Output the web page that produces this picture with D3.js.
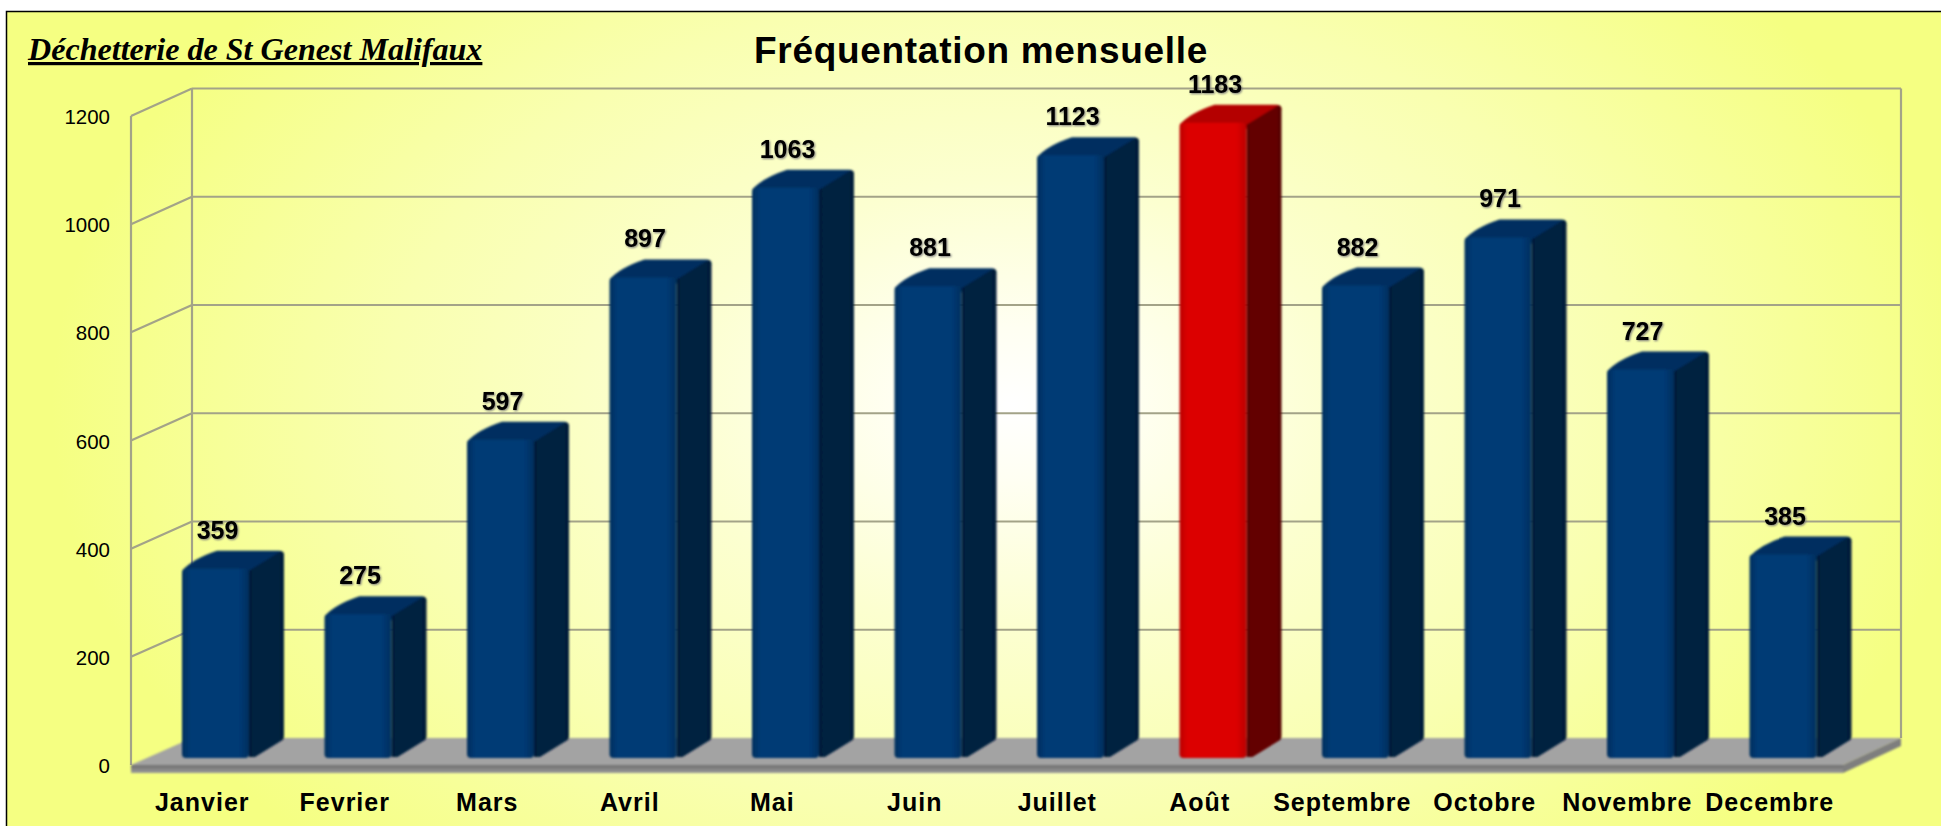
<!DOCTYPE html>
<meta charset="utf-8">
<script src="https://d3js.org/d3.v7.min.js"></script>
<style>
html, body { margin: 0; padding: 0; background: white; overflow: hidden; }
text { font-family: "Liberation Sans", Arial, sans-serif; fill: black; }
.domain { display: none; }
.tick line { display: none; }
.ytick text { font-size: 20.5px; }
.xtick text { font-size: 25px; font-weight: bold; letter-spacing: 1px; }
.val { font-size: 25px; font-weight: bold; text-anchor: middle; filter: drop-shadow(1px 1px 1px #777); }
</style>
<div id="my_dataviz"></div>
<script>
var months = ["Janvier", "Fevrier", "Mars", "Avril", "Mai", "Juin", "Juillet", "Août", "Septembre", "Octobre", "Novembre", "Decembre"]
var visits = [359, 275, 597, 897, 1063, 881, 1123, 1183, 882, 971, 727, 385]
var yTicks = [0, 200, 400, 600, 800, 1000, 1200]
var highlightMonth = "Août"

var width = 1941, height = 826
var depthX = 61, depthY = -27
var barDepthX = 35, barDepthY = -18
var barInset = 5

var svg = d3.select("#my_dataviz")
  .append("svg")
    .attr("width", width)
    .attr("height", height)
    .style("display", "block")

var defs = svg.append("defs")

// background glow
var bg = defs.append("radialGradient").attr("id", "bg")
  .attr("gradientUnits", "userSpaceOnUse")
  .attr("cx", 0).attr("cy", 0).attr("r", 1)
  .attr("gradientTransform", "translate(1012,405) scale(960,640)")
;[[0, "#ffffff"], [0.12, "#fffff2"], [0.35, "#fcffd0"], [0.65, "#f9ffb0"], [1, "#f5ff82"]].forEach(function(s) {
  bg.append("stop").attr("offset", s[0]).attr("stop-color", s[1])
})

function barGradient(id, edge, mid) {
  var g = defs.append("linearGradient").attr("id", id)
  g.append("stop").attr("offset", 0).attr("stop-color", edge)
  g.append("stop").attr("offset", 0.12).attr("stop-color", mid)
  g.append("stop").attr("offset", 0.85).attr("stop-color", mid)
  g.append("stop").attr("offset", 1).attr("stop-color", edge)
}
barGradient("frontBlue", "#002f5e", "#003a75")
barGradient("frontRed", "#bb0000", "#dc0000")
barGradient("sideBlue", "#001a36", "#00213f")
barGradient("sideRed", "#4e0000", "#640000")

var band = defs.append("linearGradient").attr("id", "floorBand").attr("x2", 0).attr("y2", 1)
band.append("stop").attr("offset", 0).attr("stop-color", "#6e6e6e")
band.append("stop").attr("offset", 1).attr("stop-color", "#9a9a9a")

defs.append("filter").attr("id", "soft")
  .attr("x", "-10%").attr("y", "-10%").attr("width", "120%").attr("height", "120%")
  .append("feGaussianBlur").attr("stdDeviation", 1)

svg.append("rect")
  .attr("x", 6.5).attr("y", 11.5)
  .attr("width", width).attr("height", height)
  .attr("fill", "url(#bg)")
  .attr("stroke", "black")
  .attr("stroke-width", 1.5)

// scale on the back wall, the front one is the same shifted by the depth
var yBack = d3.scaleLinear().domain([0, 1200]).range([738, 88.5])
var yFront = d3.scaleLinear().domain([0, 1200]).range([765, 116])
var yBar = d3.scaleLinear().domain([0, 1200]).range([763, 113.5])
var x = d3.scaleBand().domain(months).range([131, 1841])
var xBar = d3.scaleBand().domain(months).range([144.25, 1854.25]).paddingInner(0.53).paddingOuter(0.265)

var wallLeft = x.range()[0], backLeft = wallLeft + depthX, backRight = 1901

var grid = svg.append("g")
  .attr("fill", "none")
  .attr("stroke", "#a3a388")
  .attr("stroke-width", 2.2)
grid.selectAll("line.back")
  .data(yTicks.slice(1))
  .enter()
  .append("line")
    .attr("x1", backLeft).attr("x2", backRight)
    .attr("y1", function(d) { return yBack(d) })
    .attr("y2", function(d) { return yBack(d) })
grid.selectAll("line.side")
  .data(yTicks.slice(1))
  .enter()
  .append("line")
    .attr("x1", wallLeft).attr("x2", backLeft)
    .attr("y1", function(d) { return yFront(d) })
    .attr("y2", function(d) { return yBack(d) })
grid.append("line").attr("x1", wallLeft).attr("x2", wallLeft).attr("y1", yFront(1200)).attr("y2", yFront(0))
grid.append("line").attr("x1", backLeft).attr("x2", backLeft).attr("y1", yBack(1200)).attr("y2", yBack(0))
grid.append("line").attr("x1", backRight).attr("x2", backRight).attr("y1", yBack(1200)).attr("y2", yBack(0))

// floor
var floorRight = backRight - depthX + 3
var floorThick = 8
var floor = svg.append("g").attr("filter", "url(#soft)")
floor.append("path")
  .attr("fill", "#a3a3a3")
  .attr("d", "M" + wallLeft + "," + yFront(0) + "L" + backLeft + "," + yBack(0) +
    "L" + backRight + "," + yBack(0) + "L" + floorRight + "," + yFront(0) + "Z")
floor.append("rect")
  .attr("x", wallLeft).attr("y", yFront(0))
  .attr("width", floorRight - wallLeft).attr("height", floorThick)
  .attr("fill", "url(#floorBand)")
floor.append("path")
  .attr("fill", "#7e7e7e")
  .attr("d", "M" + floorRight + "," + yFront(0) + "L" + backRight + "," + yBack(0) +
    "V" + (yBack(0) + floorThick) + "L" + floorRight + "," + (yFront(0) + floorThick) + "Z")

// bars
var bars = svg.append("g")
  .attr("filter", "url(#soft)")
  .selectAll("g")
  .data(months)
  .enter()
  .append("g")

function isHot(i) { return months[i] === highlightMonth }

bars.append("path")
  .attr("fill", function(d, i) { return isHot(i) ? "#b40000" : "#002f60" })
  .attr("d", function(d, i) {
    var l = xBar(d), w = xBar.bandwidth(), t = yBar(visits[i])
    return "M" + l + "," + (t + 2) + "Q" + (l + barDepthX * 0.3) + "," + (t + barDepthY * 0.55) + " " + (l + barDepthX) + "," + (t + barDepthY) +
      "H" + (l + w + barDepthX - 5) + "Q" + (l + w + barDepthX) + "," + (t + barDepthY) + " " + (l + w + barDepthX) + "," + (t + barDepthY + 5) +
      "L" + (l + w) + "," + (t + 6) + "Z"
  })
bars.append("path")
  .attr("fill", function(d, i) { return isHot(i) ? "url(#sideRed)" : "url(#sideBlue)" })
  .attr("d", function(d, i) {
    var l = xBar(d) + xBar.bandwidth(), t = yBar(visits[i]), b = yBar(0) - barInset
    return "M" + l + "," + (t + 2) + "L" + (l + barDepthX - 4) + "," + (t + barDepthY + 1) +
      "Q" + (l + barDepthX) + "," + (t + barDepthY) + " " + (l + barDepthX) + "," + (t + barDepthY + 5) +
      "V" + (b + barDepthY - 4) + "Q" + (l + barDepthX) + "," + (b + barDepthY) + " " + (l + barDepthX - 3) + "," + (b + barDepthY + 1) +
      "L" + (l + 6) + "," + (b - 1) + "H" + l + "Z"
  })
bars.append("rect")
  .attr("x", function(d) { return xBar(d) })
  .attr("y", function(d, i) { return yBar(visits[i]) })
  .attr("width", xBar.bandwidth())
  .attr("height", function(d, i) { return yBar(0) - barInset - yBar(visits[i]) })
  .attr("rx", 4)
  .attr("fill", function(d, i) { return isHot(i) ? "url(#frontRed)" : "url(#frontBlue)" })

// value labels
svg.selectAll("text.val")
  .data(months)
  .enter()
  .append("text")
    .attr("class", "val")
    .attr("x", function(d) { return xBar(d) + xBar.bandwidth() / 2 + 2 })
    .attr("y", function(d, i) { return yBar(visits[i]) + barDepthY - 12 })
    .text(function(d, i) { return visits[i] })

// axes
svg.append("g")
  .attr("class", "ytick")
  .attr("transform", "translate(" + wallLeft + ",1)")
  .call(d3.axisLeft(yFront).tickValues(yTicks).tickSize(0).tickPadding(21).tickFormat(d3.format("d")))
svg.append("g")
  .attr("class", "xtick")
  .attr("transform", "translate(0,793)")
  .call(d3.axisBottom(x).tickSize(0).tickPadding(0))

// titles
svg.append("text")
  .attr("x", 981)
  .attr("y", 63)
  .attr("text-anchor", "middle")
  .style("font-size", "37px")
  .style("font-weight", "bold")
  .style("letter-spacing", "0.7px")
  .text("Fréquentation mensuelle")
svg.append("text")
  .attr("x", 28)
  .attr("y", 60)
  .style("font-family", "'Liberation Serif', 'Times New Roman', serif")
  .style("font-size", "32.1px")
  .style("font-weight", "bold")
  .style("font-style", "italic")
  .style("text-decoration", "underline")
  .text("Déchetterie de St Genest Malifaux")
</script>
